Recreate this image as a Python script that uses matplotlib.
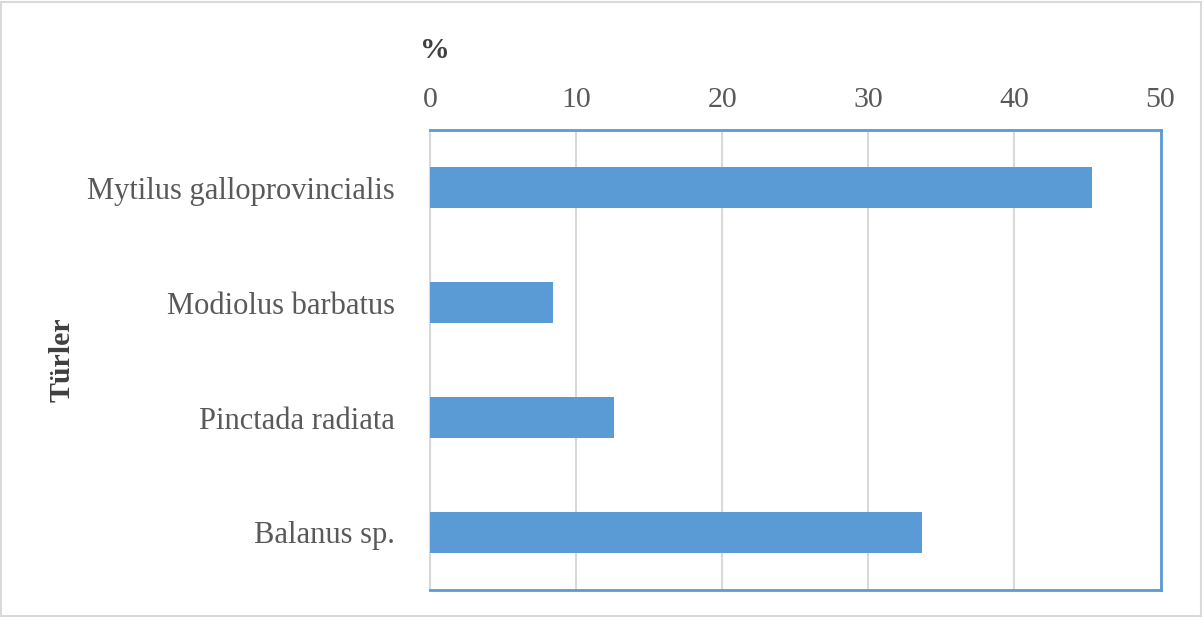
import numpy as np
import matplotlib
matplotlib.use('Agg')
from matplotlib import pyplot as plt
from matplotlib.patches import Rectangle

# data
species = ['Mytilus galloprovincialis', 'Modiolus barbatus', 'Pinctada radiata', 'Balanus sp.']
percent = [45.3, 8.4, 12.6, 33.7]
xticks = [0, 10, 20, 30, 40, 50]

plt.rcParams['font.family'] = ['Liberation Serif', 'DejaVu Serif']

fig = plt.figure(figsize=(12.03, 6.2), dpi=100)
ax = fig.add_axes([0.3574, 0.0484, 0.9647 - 0.3574, 0.7903 - 0.0484])

y = np.arange(len(species))
ax.barh(y, percent, height=0.355, color='#5B9BD5', zorder=3)
ax.set_ylim(len(species) - 0.5, -0.5)
ax.set_xlim(0, 50)
ax.set_xticks(xticks)
ax.set_yticks(y)
ax.set_yticklabels(species)

ax.xaxis.tick_top()
ax.tick_params(axis='x', length=0, pad=12, labelsize=21.5, labelcolor='#595959')
ax.tick_params(axis='y', length=0, pad=25, labelsize=22, labelcolor='#595959')
ax.grid(axis='x', color='#D9D9D9', linewidth=1.5, zorder=0)

for s in ['top', 'right', 'bottom']:
    ax.spines[s].set_color('#5B9BD5')
    ax.spines[s].set_linewidth(2)
ax.spines['left'].set_color('#D9D9D9')
ax.spines['left'].set_linewidth(1.5)

fig.text(420 / 1203, 1 - 50 / 620, '%', fontsize=21.5, fontweight='bold',
         color='#404040', ha='left', va='center')
fig.text(62 / 1203, 1 - 360 / 620, 'Türler', fontsize=21.5, fontweight='bold',
         color='#404040', rotation=90, ha='center', va='center')

# chart area frame
fig.patches.append(Rectangle((0.001, 0.006), 0.997, 0.99, transform=fig.transFigure,
                             fill=False, edgecolor='#D9D9D9', linewidth=1.5))

fig.savefig('out.png', dpi=100)
